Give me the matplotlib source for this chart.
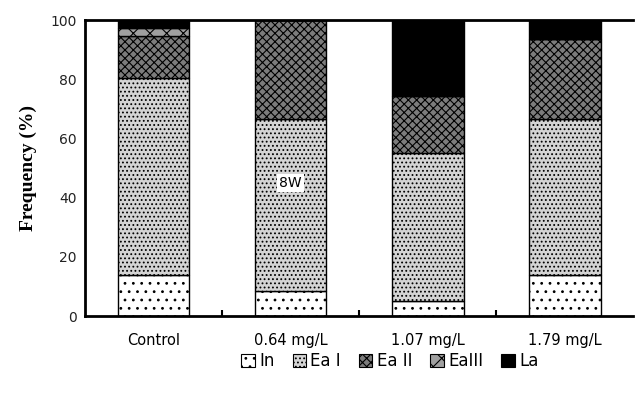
import numpy as np
import matplotlib.pyplot as plt
from matplotlib.patches import Patch

# 각 처리구별 발달단계 빈도 (%)
groups = ["Control", "0.64 mg/L", "1.07 mg/L", "1.79 mg/L"]
stages = ["In", "Ea I", "Ea II", "EaIII", "La"]
In_ = [14.0, 8.5, 5.2, 13.7]
Ea1 = [66.6, 58.0, 50.0, 53.0]
Ea2 = [14.0, 33.5, 19.3, 26.8]
Ea3 = [2.6, 0.0, 0.0, 0.0]
La = [2.8, 0.0, 25.5, 6.5]


def main():
    plt.rcParams['hatch.linewidth'] = 0.8
    fig = plt.figure(figsize=(6.36, 3.96), dpi=100)
    ax = fig.add_axes([0.134, 0.202, 0.862, 0.747])

    x = np.arange(len(groups))
    data = [In_, Ea1, Ea2, Ea3, La]
    faces = ["white", "#d4d4d4", "#7c7c7c", "#a0a0a0", "black"]
    hatches = ["..", "....", "xxxx", "xx", ""]

    bottom = np.zeros(len(groups))
    for vals, fc, h, name in zip(data, faces, hatches, stages):
        ax.bar(x, vals, bottom=bottom, width=0.52, color=fc, hatch=h,
               edgecolor="black", linewidth=1.0, label=name)
        bottom += np.array(vals)

    ax.text(1, 45, "8W", ha="center", va="center", fontsize=10,
            bbox=dict(facecolor="white", edgecolor="none", pad=1.5))

    ax.set_xlim(-0.5, 3.5)
    ax.set_ylim(0, 100)
    ax.set_yticks([0, 20, 40, 60, 80, 100])
    ax.tick_params(axis="y", labelsize=10, length=0, pad=6, colors="#222222")
    ax.set_xticks(x)
    ax.set_xticklabels(groups, fontsize=10.5)
    ax.tick_params(axis="x", length=0, pad=12)
    ax.set_xticks([0.5, 1.5, 2.5], minor=True)
    ax.tick_params(axis="x", which="minor", direction="in", length=4, width=1.5)

    ax.spines["right"].set_visible(False)
    for s in ["left", "top", "bottom"]:
        ax.spines[s].set_linewidth(2)

    ax.set_ylabel("Frequency (%)", family="Liberation Serif", fontweight="bold",
                  fontsize=14, labelpad=10)

    handles = [Patch(facecolor=fc, hatch=h, edgecolor="black", linewidth=0.8)
               for fc, h in zip(faces, hatches)]
    fig.legend(handles, stages, loc="center", bbox_to_anchor=(0.613, 0.088),
               ncol=5, frameon=False, fontsize=12, handlelength=0.8,
               handleheight=0.8, handletextpad=0.25, columnspacing=1.1)

    plt.savefig("out.png", dpi=100)


if __name__ == '__main__':
    main()
